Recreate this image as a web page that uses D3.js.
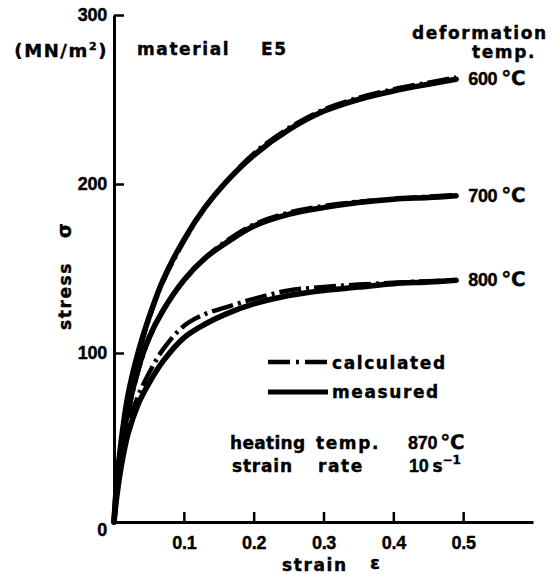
<!DOCTYPE html>
<html>
<head>
<meta charset="utf-8">
<script src="https://cdn.jsdelivr.net/npm/d3@7"></script>
<style>
  body { margin: 0; background: #fff; }
  text { font-family: "DejaVu Sans", sans-serif; font-weight: bold; fill: #000; stroke: #000; stroke-width: 0.4px; }
  .num { font-family: "Liberation Sans", Arial, sans-serif; font-size: 18px; letter-spacing: -0.3px; }
  .word { font-size: 17px; letter-spacing: 1.6px; }
</style>
</head>
<body>
<div id="chart"></div>
<script>
// strain values shared by every curve
const strain = [0, 0.004, 0.01, 0.02, 0.035, 0.05, 0.07, 0.1, 0.13, 0.16, 0.2, 0.25, 0.3, 0.35, 0.4, 0.45, 0.49]

// stress (MN/m2)
const measured600   = [0, 24, 47, 75, 101, 121, 143, 167, 186, 201, 217, 232, 243, 250, 255, 259, 262]
const calculated600 = [0, 22, 45, 73, 99, 120, 142, 166, 186, 201, 218, 233, 244, 251, 256, 260, 263]
const measured700   = [0, 21, 41, 66, 91, 109, 125, 143, 156, 165, 175, 182, 186, 189, 191, 192, 193]
const calculated700 = [0, 19, 39, 64, 90, 108, 125, 143, 156, 166, 176, 183, 187, 189.5, 191, 192.5, 193.5]
const measured800   = [0, 15, 32, 52, 70, 82, 95, 109, 117, 123, 129, 134, 137, 139, 141, 142, 143]
const calculated800 = [0, 17, 36, 57, 75, 88, 102, 116, 123, 127, 132, 137, 139, 140.5, 141.5, 142.5, 143]

const tempLabels = ["600", "700", "800"]
const xTicks = [0.1, 0.2, 0.3, 0.4, 0.5]
const yTicks = [0, 100, 200, 300]

const width = 553, height = 574

const svg = d3.select("#chart").append("svg")
  .attr("width", width)
  .attr("height", height)

const x = d3.scaleLinear().domain([0, 0.6]).range([114, 533])
const y = d3.scaleLinear().domain([0, 300]).range([522, 15])

// axes
const xAxis = svg.append("g")
  .attr("transform", `translate(0, ${y(0)})`)
  .call(d3.axisBottom(x).tickValues(xTicks).tickSize(-10).tickSizeOuter(0).tickPadding(14).tickFormat(d3.format(".1f")))
xAxis.select(".domain").attr("stroke", "#000").attr("stroke-width", 3)
xAxis.selectAll(".tick line").attr("stroke", "#000").attr("stroke-width", 2.5)
xAxis.selectAll(".tick text").attr("class", "num").attr("fill", "#000")

const yAxis = svg.append("g")
  .attr("transform", `translate(${x(0)}, 0)`)
  .call(d3.axisLeft(y).tickValues(yTicks).tickSize(-10).tickSizeOuter(0).tickPadding(7))
yAxis.select(".domain").attr("stroke", "#000").attr("stroke-width", 3)
yAxis.selectAll(".tick line").attr("stroke", "#000").attr("stroke-width", 2.5)
yAxis.selectAll(".tick text").attr("class", "num").attr("fill", "#000")
yAxis.selectAll(".tick").filter(d => d === 0).select("text").attr("dy", "0.75em")
yAxis.selectAll(".tick").filter(d => d === 0).select("line").remove()

// curves
const line = d3.line()
  .x((d, i) => x(strain[i]))
  .y(d => y(d))
  .curve(d3.curveCatmullRom.alpha(0.5))

const series = [
  { label: tempLabels[0], measured: measured600, calculated: calculated600 },
  { label: tempLabels[1], measured: measured700, calculated: calculated700 },
  { label: tempLabels[2], measured: measured800, calculated: calculated800 },
]

series.forEach(s => {
  svg.append("path")
    .attr("d", line(s.measured))
    .attr("fill", "none")
    .attr("stroke", "#000")
    .attr("stroke-width", 5.5)
    .attr("stroke-linecap", "round")

  svg.append("path")
    .attr("d", line(s.calculated))
    .attr("fill", "none")
    .attr("stroke", "#000")
    .attr("stroke-width", 4.5)
    .attr("stroke-dasharray", "22,5,3,5")

  const last = s.measured[s.measured.length - 1]
  const t = svg.append("text")
    .attr("x", x(strain[strain.length - 1]) + 12)
    .attr("y", y(last))
    .attr("dy", "0.36em")
  t.append("tspan").attr("class", "num").text(s.label)
  t.append("tspan").attr("dx", 4).attr("font-size", 20).text("℃")
})

// titles
const unit = svg.append("text").attr("x", 108).attr("y", 57).attr("text-anchor", "end")
  .attr("font-size", 18).style("letter-spacing", "1.6px")
unit.append("tspan").text("(MN/m")
unit.append("tspan").attr("font-size", 11).attr("dy", -7).text("2")
unit.append("tspan").attr("dy", 7).text(")")

svg.append("text").attr("class", "word").attr("x", 137).attr("y", 55).text("material")
svg.append("text").attr("class", "word").attr("x", 261).attr("y", 55).text("E5")

svg.append("text").attr("class", "word").attr("x", 412).attr("y", 39).text("deformation")
svg.append("text").attr("class", "word").attr("x", 472).attr("y", 58).text("temp.")

svg.append("text").attr("class", "word")
  .attr("transform", "translate(71, 330) rotate(-90)")
  .text("stress")
svg.append("text")
  .attr("transform", "translate(71, 238) rotate(-90)")
  .attr("font-size", 19)
  .text("σ")

svg.append("text").attr("class", "word").attr("x", 282).attr("y", 571).text("strain")
svg.append("text").attr("x", 370).attr("y", 569).attr("font-size", 18).text("ε")

// legend
const legend = svg.append("g")
legend.append("line").attr("x1", 268).attr("x2", 328).attr("y1", 362).attr("y2", 362)
  .attr("stroke", "#000").attr("stroke-width", 4.5).attr("stroke-dasharray", "22,6,3,6")
legend.append("text").attr("class", "word").attr("x", 332).attr("y", 369).text("calculated")
legend.append("line").attr("x1", 268).attr("x2", 328).attr("y1", 392).attr("y2", 392)
  .attr("stroke", "#000").attr("stroke-width", 5)
legend.append("text").attr("class", "word").attr("x", 332).attr("y", 398).text("measured")

svg.append("text").attr("class", "word").attr("x", 230).attr("y", 449)
  .style("letter-spacing", "0.3px").text("heating")
svg.append("text").attr("class", "word").attr("x", 316).attr("y", 449).text("temp.")
const heat = svg.append("text").attr("x", 408).attr("y", 449)
heat.append("tspan").attr("class", "num").text("870")
heat.append("tspan").attr("dx", 3).attr("font-size", 20).text("℃")

svg.append("text").attr("class", "word").attr("x", 232).attr("y", 472)
  .style("letter-spacing", "0.8px").text("strain")
svg.append("text").attr("class", "word").attr("x", 318).attr("y", 472).text("rate")
const rate = svg.append("text").attr("x", 409).attr("y", 472)
rate.append("tspan").attr("class", "num").text("10")
rate.append("tspan").attr("dx", 4).attr("font-size", 17).text("s")
rate.append("tspan").attr("font-size", 12).attr("dy", -8).text("−1")
</script>
</body>
</html>
